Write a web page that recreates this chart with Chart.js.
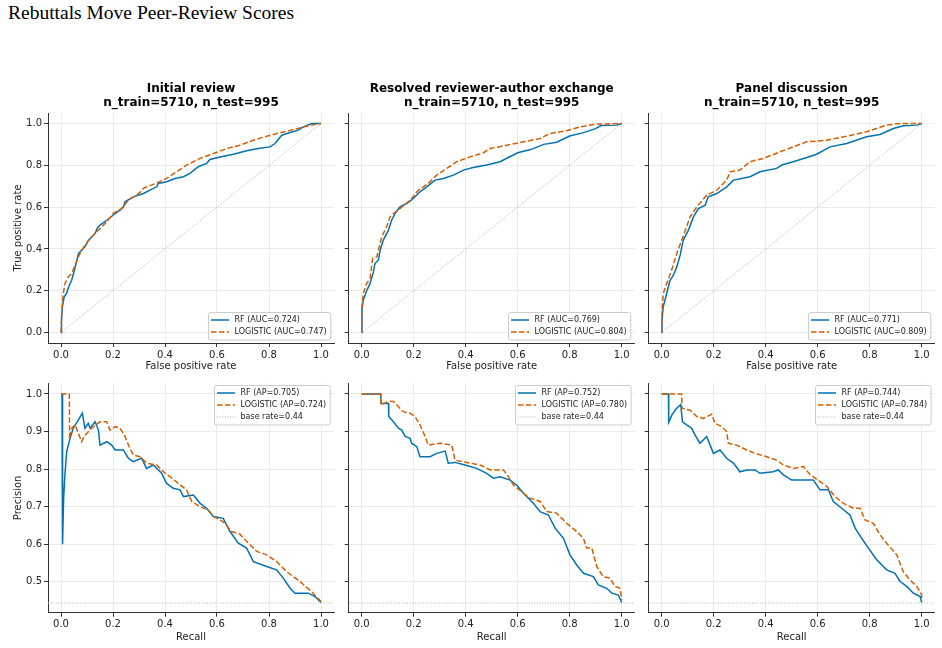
<!DOCTYPE html>
<html><head><meta charset="utf-8">
<script src="https://cdn.jsdelivr.net/npm/chart.js@4.4.0/dist/chart.umd.min.js"></script>
<style>
html,body{margin:0;padding:0;background:#fff;}
body{width:942px;height:648px;position:relative;overflow:hidden;}
#suptitle{position:absolute;left:8px;top:2px;font-family:'Liberation Serif','Times New Roman',serif;font-size:19.5px;color:#000;white-space:nowrap;line-height:22px;}
canvas{position:absolute;}
</style></head><body>
<div id="suptitle">Rebuttals Move Peer-Review Scores</div>
<script>
// ---------------- DATA ----------------
const stageNames = ['Initial review', 'Resolved reviewer-author exchange', 'Panel discussion'];
const nTrain = 5710, nTest = 995;
const aucRF = [0.724, 0.769, 0.771];
const aucLR = [0.747, 0.804, 0.809];
const apRF = [0.705, 0.752, 0.744];
const apLR = [0.724, 0.780, 0.784];
const baseRate = 0.444;
const baseRateLabel = '0.44';

const xTicks = [0, 0.2, 0.4, 0.6, 0.8, 1.0];
const xTickLabels = ['0.0', '0.2', '0.4', '0.6', '0.8', '1.0'];
const rocYTicks = [0, 0.2, 0.4, 0.6, 0.8, 1.0];
const rocYTickLabels = ['0.0', '0.2', '0.4', '0.6', '0.8', '1.0'];
const prYTicks = [0.5, 0.6, 0.7, 0.8, 0.9, 1.0];
const prYTickLabels = ['0.5', '0.6', '0.7', '0.8', '0.9', '1.0'];

// ROC curves: [false positive rate, true positive rate]
const rocInitialRF = [[0,0],[0.002,0.06],[0.005,0.12],[0.012,0.17],[0.022,0.19],[0.03,0.22],[0.041,0.25],[0.054,0.31],[0.067,0.378],[0.079,0.394],[0.092,0.41],[0.105,0.44],[0.131,0.474],[0.14,0.5],[0.15,0.514],[0.176,0.537],[0.2,0.561],[0.227,0.585],[0.24,0.6],[0.246,0.625],[0.278,0.649],[0.317,0.665],[0.342,0.681],[0.368,0.697],[0.374,0.713],[0.406,0.721],[0.438,0.737],[0.471,0.745],[0.496,0.761],[0.528,0.793],[0.56,0.809],[0.573,0.828],[0.612,0.84],[0.663,0.853],[0.714,0.869],[0.759,0.88],[0.804,0.888],[0.823,0.904],[0.849,0.944],[0.881,0.957],[0.913,0.968],[0.932,0.984],[0.964,1.0],[1,1]];
const rocInitialLR = [[0,0],[0.003,0.1],[0.008,0.18],[0.015,0.234],[0.028,0.266],[0.041,0.282],[0.054,0.322],[0.073,0.378],[0.092,0.418],[0.118,0.458],[0.144,0.49],[0.176,0.53],[0.2,0.569],[0.233,0.593],[0.259,0.633],[0.304,0.67],[0.317,0.69],[0.337,0.7],[0.368,0.715],[0.406,0.737],[0.445,0.769],[0.483,0.801],[0.535,0.833],[0.586,0.856],[0.637,0.88],[0.688,0.896],[0.74,0.92],[0.791,0.939],[0.842,0.955],[0.894,0.971],[0.945,0.987],[0.983,0.998],[1,1]];
const rocResolvedRF = [[0,0],[0.001,0.107],[0.006,0.155],[0.019,0.2],[0.032,0.234],[0.045,0.29],[0.051,0.33],[0.064,0.346],[0.071,0.394],[0.083,0.442],[0.103,0.49],[0.115,0.537],[0.128,0.569],[0.147,0.601],[0.173,0.617],[0.199,0.641],[0.224,0.673],[0.25,0.697],[0.282,0.729],[0.314,0.737],[0.353,0.753],[0.391,0.777],[0.429,0.789],[0.481,0.801],[0.532,0.817],[0.6,0.86],[0.65,0.875],[0.7,0.9],[0.75,0.91],[0.8,0.94],[0.85,0.955],[0.9,0.975],[0.92,0.99],[0.98,0.992],[1,1]];
const rocResolvedLR = [[0,0],[0.001,0.123],[0.006,0.187],[0.019,0.234],[0.032,0.258],[0.042,0.354],[0.058,0.362],[0.077,0.458],[0.096,0.506],[0.109,0.553],[0.122,0.569],[0.147,0.593],[0.186,0.633],[0.218,0.681],[0.256,0.713],[0.288,0.753],[0.327,0.785],[0.365,0.817],[0.417,0.84],[0.468,0.86],[0.494,0.88],[0.558,0.896],[0.622,0.912],[0.686,0.928],[0.724,0.952],[0.788,0.965],[0.84,0.984],[0.904,0.997],[1,1]];
const rocPanelRF = [[0,0],[0.001,0.059],[0.006,0.123],[0.019,0.187],[0.032,0.25],[0.045,0.274],[0.058,0.314],[0.071,0.37],[0.083,0.442],[0.103,0.49],[0.122,0.553],[0.141,0.593],[0.167,0.609],[0.179,0.649],[0.212,0.665],[0.25,0.697],[0.276,0.729],[0.34,0.745],[0.378,0.769],[0.442,0.785],[0.462,0.801],[0.506,0.817],[0.558,0.837],[0.596,0.853],[0.647,0.888],[0.712,0.904],[0.788,0.936],[0.84,0.947],[0.891,0.976],[0.929,0.989],[0.981,0.992],[1,1]];
const rocPanelLR = [[0,0],[0.001,0.091],[0.006,0.187],[0.019,0.234],[0.038,0.298],[0.058,0.378],[0.077,0.442],[0.096,0.506],[0.109,0.553],[0.135,0.601],[0.173,0.657],[0.212,0.681],[0.25,0.729],[0.263,0.769],[0.301,0.777],[0.34,0.817],[0.391,0.833],[0.455,0.864],[0.506,0.888],[0.558,0.912],[0.635,0.92],[0.712,0.939],[0.788,0.96],[0.865,0.992],[0.917,1.0],[1,1]];
const chanceLine = [[0,0],[1,1]];

// Precision-recall curves: [recall, precision]
const prInitialRF = [[0,1.0],[0.004,1.0],[0.006,0.6],[0.01,0.72],[0.015,0.785],[0.022,0.847],[0.035,0.882],[0.047,0.909],[0.067,0.931],[0.082,0.949],[0.092,0.909],[0.105,0.922],[0.112,0.909],[0.131,0.926],[0.144,0.904],[0.15,0.864],[0.176,0.873],[0.195,0.864],[0.208,0.851],[0.24,0.851],[0.259,0.829],[0.278,0.82],[0.31,0.829],[0.329,0.802],[0.355,0.811],[0.387,0.789],[0.406,0.762],[0.432,0.749],[0.458,0.745],[0.471,0.727],[0.509,0.731],[0.535,0.709],[0.56,0.696],[0.586,0.674],[0.624,0.669],[0.65,0.634],[0.682,0.603],[0.714,0.59],[0.74,0.554],[0.791,0.541],[0.829,0.532],[0.855,0.51],[0.881,0.483],[0.9,0.47],[0.951,0.47],[0.977,0.461],[1.0,0.445]];
const prInitialLR = [[0,1.0],[0.032,1.0],[0.033,0.88],[0.041,0.909],[0.054,0.918],[0.067,0.895],[0.079,0.873],[0.092,0.89],[0.118,0.909],[0.15,0.926],[0.176,0.926],[0.188,0.904],[0.208,0.913],[0.227,0.909],[0.246,0.887],[0.265,0.855],[0.278,0.838],[0.304,0.833],[0.329,0.816],[0.368,0.811],[0.394,0.793],[0.419,0.78],[0.451,0.762],[0.483,0.745],[0.503,0.714],[0.535,0.7],[0.567,0.691],[0.586,0.674],[0.624,0.66],[0.656,0.634],[0.688,0.627],[0.708,0.612],[0.753,0.581],[0.791,0.572],[0.829,0.554],[0.868,0.527],[0.919,0.501],[0.964,0.474],[1.0,0.448]];
const prResolvedRF = [[0,1.0],[0.073,1.0],[0.075,0.975],[0.103,0.975],[0.104,0.94],[0.122,0.926],[0.141,0.909],[0.154,0.904],[0.167,0.887],[0.186,0.882],[0.192,0.869],[0.212,0.86],[0.224,0.833],[0.263,0.833],[0.288,0.842],[0.321,0.848],[0.333,0.816],[0.359,0.818],[0.397,0.811],[0.442,0.802],[0.481,0.789],[0.506,0.776],[0.532,0.78],[0.571,0.771],[0.596,0.758],[0.622,0.736],[0.66,0.709],[0.686,0.687],[0.718,0.678],[0.744,0.643],[0.776,0.616],[0.801,0.572],[0.827,0.545],[0.853,0.523],[0.891,0.514],[0.91,0.492],[0.942,0.483],[0.962,0.47],[0.987,0.465],[1.0,0.445]];
const prResolvedLR = [[0,1.0],[0.073,1.0],[0.074,0.971],[0.106,0.981],[0.122,0.98],[0.141,0.966],[0.16,0.953],[0.186,0.949],[0.205,0.94],[0.224,0.918],[0.244,0.887],[0.256,0.864],[0.301,0.869],[0.346,0.864],[0.359,0.824],[0.404,0.818],[0.455,0.811],[0.494,0.798],[0.545,0.798],[0.564,0.78],[0.583,0.758],[0.615,0.74],[0.647,0.723],[0.686,0.714],[0.712,0.687],[0.75,0.683],[0.788,0.656],[0.827,0.634],[0.853,0.616],[0.865,0.59],[0.885,0.59],[0.904,0.541],[0.929,0.514],[0.955,0.51],[0.974,0.488],[0.994,0.483],[1.0,0.452]];
const prPanelRF = [[0,1.0],[0.026,1.0],[0.027,0.925],[0.04,0.945],[0.055,0.96],[0.073,0.972],[0.08,0.926],[0.096,0.918],[0.115,0.909],[0.128,0.891],[0.147,0.869],[0.173,0.887],[0.199,0.842],[0.224,0.851],[0.25,0.829],[0.276,0.816],[0.301,0.793],[0.327,0.798],[0.359,0.798],[0.378,0.789],[0.429,0.793],[0.449,0.798],[0.468,0.785],[0.5,0.771],[0.532,0.771],[0.583,0.771],[0.609,0.745],[0.641,0.745],[0.66,0.714],[0.692,0.696],[0.724,0.678],[0.744,0.643],[0.769,0.616],[0.795,0.59],[0.827,0.559],[0.865,0.532],[0.897,0.523],[0.917,0.501],[0.942,0.488],[0.968,0.47],[0.994,0.461],[1.0,0.445]];
const prPanelLR = [[0,1.0],[0.077,1.0],[0.078,0.962],[0.109,0.957],[0.135,0.94],[0.16,0.935],[0.192,0.946],[0.205,0.922],[0.231,0.913],[0.25,0.9],[0.256,0.869],[0.288,0.864],[0.327,0.851],[0.359,0.842],[0.404,0.833],[0.442,0.824],[0.468,0.811],[0.506,0.802],[0.545,0.807],[0.571,0.785],[0.609,0.767],[0.635,0.754],[0.667,0.727],[0.699,0.709],[0.737,0.696],[0.763,0.696],[0.782,0.665],[0.814,0.656],[0.84,0.625],[0.865,0.603],[0.904,0.572],[0.929,0.527],[0.955,0.505],[0.981,0.488],[1.0,0.465],[1.0,0.452]];
const baseRateLine = [[-0.05, baseRate], [1.05, baseRate]];

// ---------------- STYLE / LAYOUT ----------------
const BLUE = '#0072B2', ORANGE = '#D55E00';
const TXT = '#222222', SPINE = '#333333', GRID = '#e6e6e6';
Chart.defaults.font.family = "'DejaVu Sans', sans-serif";
Chart.defaults.color = TXT;

const colLeft = [0, 340, 640];
const colWidth = [340, 300, 302];
const yAxisW = [48, 8.7, 8.7];
const padRight = [6, 5.3, 7.3];

const rocRF = [rocInitialRF, rocResolvedRF, rocPanelRF];
const rocLR = [rocInitialLR, rocResolvedLR, rocPanelLR];
const prRF = [prInitialRF, prResolvedRF, prPanelRF];
const prLR = [prInitialLR, prResolvedLR, prPanelLR];

const pts = arr => arr.map(p => ({x: p[0], y: p[1]}));

function rrect(ctx, x, y, w, h, r) {
  ctx.beginPath();
  ctx.moveTo(x + r, y);
  ctx.lineTo(x + w - r, y);
  ctx.quadraticCurveTo(x + w, y, x + w, y + r);
  ctx.lineTo(x + w, y + h - r);
  ctx.quadraticCurveTo(x + w, y + h, x + w - r, y + h);
  ctx.lineTo(x + r, y + h);
  ctx.quadraticCurveTo(x, y + h, x, y + h - r);
  ctx.lineTo(x, y + r);
  ctx.quadraticCurveTo(x, y, x + r, y);
  ctx.closePath();
}

const boxLegend = {
  id: 'boxLegend',
  afterDraw(chart, args, opts) {
    const items = opts.items;
    if (!items) return;
    const ctx = chart.ctx, ca = chart.chartArea;
    ctx.save();
    ctx.font = "8px 'DejaVu Sans'";
    const rowH = 12, padL = 2.5, handle = 18, gap = 5.5, padR = 4;
    const tw = Math.max(...items.map(it => ctx.measureText(it.text).width));
    const w = padL + handle + gap + tw + padR;
    const h = items.length * rowH + 3.5;
    const x = Math.round(ca.right - 4 - w) + 0.5;
    const y = opts.loc === 'lower right' ? Math.round(ca.bottom - 4 - h) + 0.5 : Math.round(ca.top + 2) + 0.5;
    rrect(ctx, x, y, w, h, 2);
    ctx.fillStyle = 'rgba(255,255,255,0.8)';
    ctx.fill();
    ctx.strokeStyle = '#cccccc';
    ctx.lineWidth = 1;
    ctx.stroke();
    items.forEach((it, i) => {
      const cy = y + 7.5 + rowH * i;
      ctx.beginPath();
      ctx.setLineDash(it.dash || []);
      ctx.strokeStyle = it.color;
      ctx.lineWidth = it.width;
      ctx.moveTo(x + padL, cy);
      ctx.lineTo(x + padL + handle, cy);
      ctx.stroke();
      ctx.setLineDash([]);
      ctx.fillStyle = TXT;
      ctx.textBaseline = 'middle';
      ctx.textAlign = 'left';
      ctx.fillText(it.text, x + padL + handle + gap, cy);
    });
    ctx.restore();
  }
};

function makeChart(col, row) {
  const cv = document.createElement('canvas');
  const top = row === 0 ? 80 : 370;
  const h = row === 0 ? 295 : 278;
  cv.width = colWidth[col];
  cv.height = h;
  cv.style.left = colLeft[col] + 'px';
  cv.style.top = top + 'px';
  document.body.appendChild(cv);

  const isRoc = row === 0;
  const yTicks = isRoc ? rocYTicks : prYTicks;
  const yLabels = isRoc ? rocYTickLabels : prYTickLabels;
  const yMin = isRoc ? -0.05 : 0.418;
  const yMax = isRoc ? 1.05 : 1.029;

  const datasets = [
    {label: 'RF', data: pts(isRoc ? rocRF[col] : prRF[col]), borderColor: BLUE, borderWidth: 1.5, order: 2},
    {label: 'LOGISTIC', data: pts(isRoc ? rocLR[col] : prLR[col]), borderColor: ORANGE, borderWidth: 1.5, borderDash: [5.5, 2.4], order: 1},
    isRoc
      ? {label: 'chance', data: pts(chanceLine), borderColor: '#9a9a9a', borderWidth: 0.8, borderDash: [0.8, 1.3], order: 3}
      : {label: 'base rate', data: pts(baseRateLine), borderColor: '#b0b0b0', borderWidth: 1, borderDash: [1, 1.65], order: 3}
  ];
  datasets.forEach(d => { d.pointRadius = 0; d.tension = 0; d.fill = false; });

  const legendItems = isRoc ? [
    {text: `RF (AUC=${aucRF[col].toFixed(3)})`, color: BLUE, width: 1.5},
    {text: `LOGISTIC (AUC=${aucLR[col].toFixed(3)})`, color: ORANGE, width: 1.5, dash: [5.5, 2.4]}
  ] : [
    {text: `RF (AP=${apRF[col].toFixed(3)})`, color: BLUE, width: 1.5},
    {text: `LOGISTIC (AP=${apLR[col].toFixed(3)})`, color: ORANGE, width: 1.5, dash: [5.5, 2.4]},
    {text: `base rate=${baseRateLabel}`, color: '#b0b0b0', width: 1, dash: [1, 1.65]}
  ];

  const gridCfg = {color: GRID, lineWidth: 0.8, tickColor: SPINE, tickLength: 4, tickWidth: 1, drawTicks: true};
  const borderCfg = {display: true, color: SPINE, width: 1};

  new Chart(cv, {
    type: 'line',
    data: {datasets},
    plugins: [boxLegend],
    options: {
      responsive: false,
      animation: false,
      devicePixelRatio: 1,
      events: [],
      layout: {autoPadding: false, padding: {left: 0, right: padRight[col], top: isRoc ? 0 : 13.1, bottom: 0}},
      plugins: {
        legend: {display: false},
        tooltip: {enabled: false},
        title: {
          display: isRoc,
          fullSize: false,
          text: [stageNames[col], `n_train=${nTrain}, n_test=${nTest}`],
          font: {size: 12, weight: 'bold', lineHeight: 1.2},
          color: '#000',
          padding: {top: 1.7, bottom: 2.5}
        },
        boxLegend: {items: legendItems, loc: isRoc ? 'lower right' : 'upper right'}
      },
      scales: {
        x: {
          type: 'linear', min: -0.05, max: 1.05,
          afterBuildTicks: s => { s.ticks = xTicks.map(v => ({value: v})); },
          afterFit: s => { s.height = isRoc ? 32 : 35.3; },
          ticks: {callback: (v, i) => xTickLabels[i], padding: 2, color: TXT, font: {size: 10}, maxRotation: 0, autoSkip: false},
          grid: gridCfg, border: borderCfg,
          title: {display: true, text: isRoc ? 'False positive rate' : 'Recall', color: TXT, font: {size: 10, lineHeight: 1.2}, padding: {top: 0, bottom: isRoc ? 3 : 5}}
        },
        y: {
          type: 'linear', min: yMin, max: yMax,
          afterBuildTicks: s => { s.ticks = yTicks.map(v => ({value: v})); },
          afterFit: s => { s.width = yAxisW[col]; },
          ticks: {display: col === 0, callback: (v, i) => yLabels[i], padding: 2, color: TXT, font: {size: 10}, autoSkip: false},
          grid: gridCfg, border: borderCfg,
          title: {display: col === 0, text: isRoc ? 'True positive rate' : 'Precision', color: TXT, font: {size: 10, lineHeight: 1.2}, padding: {top: 12.3, bottom: 0}}
        }
      }
    }
  });
}

for (let row = 0; row < 2; row++) for (let col = 0; col < 3; col++) makeChart(col, row);
</script>
</body></html>
